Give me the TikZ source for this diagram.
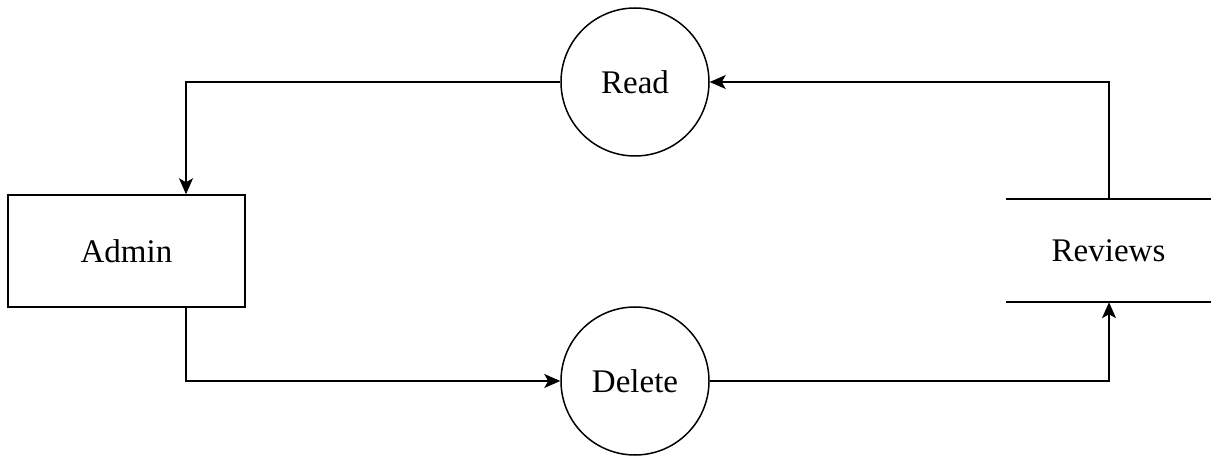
\documentclass[tikz,border=0pt]{standalone}
\usepackage{fontspec}
\setmainfont{Liberation Serif}
\usetikzlibrary{arrows.meta}
\begin{document}
\begin{tikzpicture}[x=1pt,y=-1pt,
  every node/.style={font=\fontsize{33}{38}\selectfont},
  proc/.style={circle,draw,line width=1.5pt,minimum size=148pt,inner sep=0pt},
  ent/.style={rectangle,draw,line width=1.5pt,minimum width=237pt,minimum height=112pt,inner sep=0pt},
  flow/.style={line width=1.5pt,-{Stealth[length=16pt,width=14pt,inset=4pt]}}]
\useasboundingbox (0,0) rectangle (1211,457);
\node[proc] (read) at (635,82) {Read};
\node[proc] (del) at (635,381) {Delete};
\node[ent] (admin) at (126.5,251) {Admin};
\node[minimum width=205pt,minimum height=103pt,inner sep=0pt] (rev) at (1108.5,250.5) {Reviews};
\draw[line width=1.5pt] (rev.north west) -- (rev.north east);
\draw[line width=1.5pt] (rev.south west) -- (rev.south east);
\coordinate (c1) at (186,82);
\coordinate (c2) at (186,381);
\coordinate (c3) at (1109,381);
\coordinate (c4) at (1109,82);
\draw[flow] (read.west) -- (c1) -- (c1 |- admin.north);
\draw[flow] (c2 |- admin.south) -- (c2) -- (del.west);
\draw[flow] (del.east) -- (c3) -- (c3 |- rev.south);
\draw[flow] (c4 |- rev.north) -- (c4) -- (read.east);
\end{tikzpicture}
\end{document}
